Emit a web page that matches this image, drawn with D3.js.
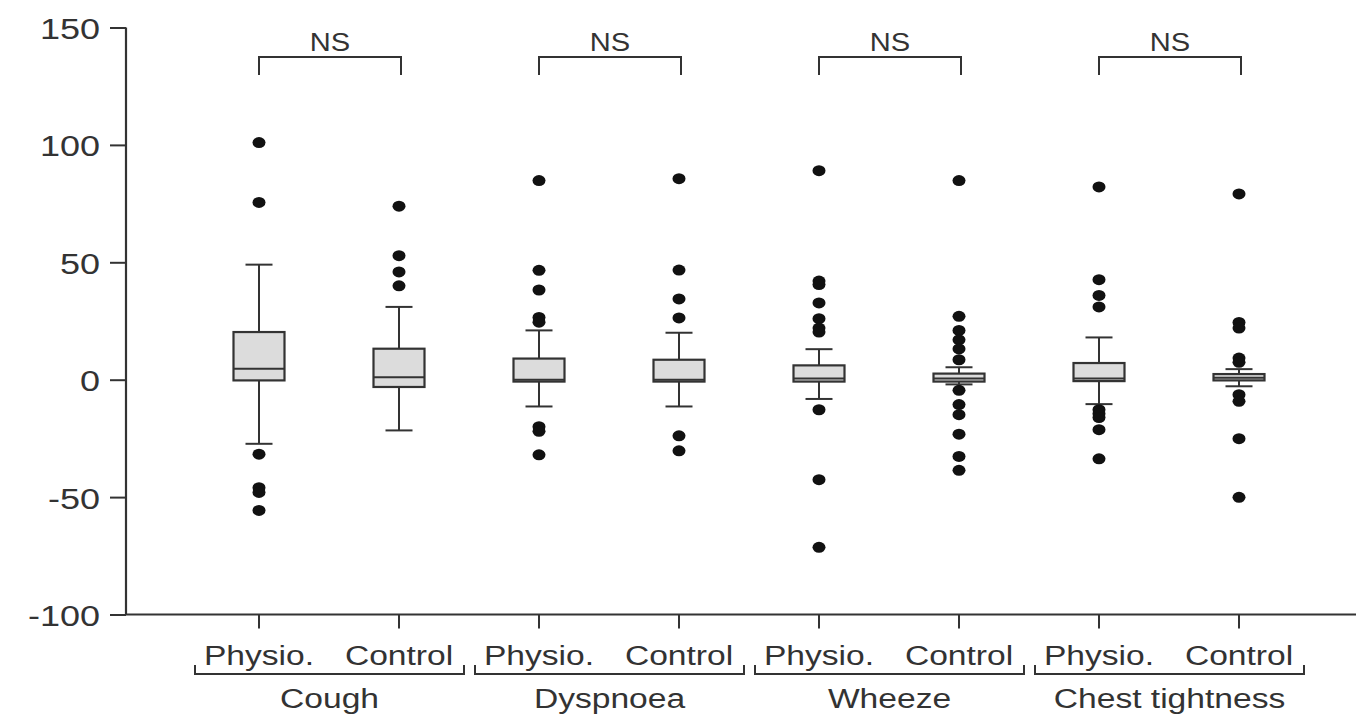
<!DOCTYPE html>
<html>
<head>
<meta charset="utf-8">
<script src="https://cdn.jsdelivr.net/npm/d3@7"></script>
<style>
  html, body { margin: 0; padding: 0; background: #fff; }
  svg { display: block; }
  text { font-family: "Liberation Sans", Arial, sans-serif; fill: #333; }
</style>
</head>
<body>
<svg id="chart" width="1356" height="717"></svg>
<script>
// ---- data ----
const categories = ["Cough", "Dyspnoea", "Wheeze", "Chest tightness"];
const arms = ["Physio.", "Control"];
const yTicks = [-100, -50, 0, 50, 100, 150];
const sigLabels = ["NS", "NS", "NS", "NS"];

// per box, in order: Cough Physio, Cough Control, Dyspnoea Physio, ...
const whiskerHigh = [49, 31, 21, 20, 13, 5.3, 18, 4.5];
const q3          = [20.3, 13.2, 9, 8.5, 6.1, 2.6, 7.1, 2.4];
const median      = [4.7, 1, 0, 0, 0.5, 0.5, 0.5, 0.8];
const q1          = [-0.3, -3.1, -0.8, -0.8, -0.8, -0.8, -0.6, -0.3];
const whiskerLow  = [-27.3, -21.6, -11.4, -11.4, -8.2, -2, -10.4, -2.8];
const outliers = [
  [101, 75.5, -31.7, -46, -48, -55.7],
  [73.9, 52.8, 45.9, 40],
  [84.8, 46.6, 38.2, 26.5, 24.5, -20, -22, -32],
  [85.6, 46.7, 34.4, 26.3, -23.9, -30.3],
  [89, 42, 40.5, 32.7, 26, 22, 20.3, -12.8, -42.6, -71.4],
  [84.8, 27, 21, 17, 13.1, 8.5, -4.5, -10.6, -14.9, -23.2, -32.7, -38.6],
  [82.1, 42.6, 35.9, 31, -12.8, -14.5, -16.1, -21.3, -33.7],
  [79.1, 24.4, 22, 9.2, 7.4, -6.4, -9.2, -25.1, -50.1]
];

// ---- layout ----
const svg = d3.select("#chart");
const W = 1356, H = 717;
const axisX = 126;
const y = d3.scaleLinear().domain([-100, 150]).range([614.5, 27.5]);
const keys = [];
categories.forEach(c => arms.forEach(a => keys.push(c + "|" + a)));
const x = d3.scalePoint().domain(keys).range([259, 1239]);
const stroke = "#333";
const SX = 1.2; // horizontal stretch of the reference's text

const boxes = keys.map((k, i) => ({
  key: k, cat: k.split("|")[0], arm: k.split("|")[1],
  lo: whiskerLow[i], q1: q1[i], med: median[i], q3: q3[i], hi: whiskerHigh[i],
  out: outliers[i]
}));

// ---- y axis ----
const yAxis = svg.append("g").attr("transform", `translate(${axisX},0)`)
  .call(d3.axisLeft(y).tickValues(yTicks).tickSize(16).tickPadding(0).tickFormat(d => String(d)));
yAxis.select(".domain").attr("stroke", stroke).attr("stroke-width", 2.2)
  .attr("d", `M0,${y(150)}V${y(-100)}`);
yAxis.selectAll(".tick line").attr("stroke", stroke).attr("stroke-width", 2);
yAxis.selectAll(".tick text").each(function () {
  const t = d3.select(this);
  t.attr("x", null).attr("dy", null)
   .attr("transform", `translate(-26,11) scale(${SX},1)`)
   .attr("text-anchor", "end")
   .style("font-size", "30px").style("fill", "#333");
});
yAxis.attr("font-family", null).attr("font-size", null);

// ---- x axis ----
svg.append("line").attr("x1", axisX - 1).attr("x2", W).attr("y1", y(-100)).attr("y2", y(-100))
  .attr("stroke", stroke).attr("stroke-width", 2.2);
svg.append("g").selectAll("line").data(boxes).join("line")
  .attr("x1", d => x(d.key)).attr("x2", d => x(d.key))
  .attr("y1", y(-100)).attr("y2", y(-100) + 14)
  .attr("stroke", stroke).attr("stroke-width", 2);

// arm labels
svg.append("g").selectAll("text").data(boxes).join("text")
  .attr("transform", d => `translate(${x(d.key)},665) scale(${SX},1)`)
  .attr("text-anchor", "middle").style("font-size", "28px")
  .text(d => d.arm);

// group brackets and labels
const groupG = svg.append("g");
categories.forEach(c => {
  const x0 = x(c + "|" + arms[0]) - 64;
  const x1 = x(c + "|" + arms[1]) + 65;
  groupG.append("path")
    .attr("d", `M${x0},665V674H${x1}V665`)
    .attr("fill", "none").attr("stroke", stroke).attr("stroke-width", 2);
  groupG.append("text")
    .attr("transform", `translate(${(x0 + x1) / 2},708) scale(${SX},1)`)
    .attr("text-anchor", "middle").style("font-size", "28px").text(c);
});

// significance brackets
categories.forEach((c, i) => {
  const xa = x(c + "|" + arms[0]), xb = x(c + "|" + arms[1]) + 2;
  svg.append("path").attr("d", `M${xa},75V57H${xb}V75`)
    .attr("fill", "none").attr("stroke", stroke).attr("stroke-width", 2);
  svg.append("text")
    .attr("transform", `translate(${(xa + xb) / 2},51) scale(1.12,1)`)
    .attr("text-anchor", "middle").style("font-size", "26px").text(sigLabels[i]);
});

// ---- boxes ----
const bw = 51, cw = 27;
const bg = svg.append("g").selectAll("g").data(boxes).join("g")
  .attr("transform", d => `translate(${x(d.key)},0)`);

bg.append("line").attr("x1", 0).attr("x2", 0)
  .attr("y1", d => y(d.hi)).attr("y2", d => y(d.q3))
  .attr("stroke", stroke).attr("stroke-width", 2);
bg.append("line").attr("x1", 0).attr("x2", 0)
  .attr("y1", d => y(d.q1)).attr("y2", d => y(d.lo))
  .attr("stroke", stroke).attr("stroke-width", 2);
bg.append("line").attr("x1", -cw / 2).attr("x2", cw / 2)
  .attr("y1", d => y(d.hi)).attr("y2", d => y(d.hi))
  .attr("stroke", stroke).attr("stroke-width", 2);
bg.append("line").attr("x1", -cw / 2).attr("x2", cw / 2)
  .attr("y1", d => y(d.lo)).attr("y2", d => y(d.lo))
  .attr("stroke", stroke).attr("stroke-width", 2);
bg.append("rect").attr("x", -bw / 2).attr("width", bw)
  .attr("y", d => y(d.q3)).attr("height", d => y(d.q1) - y(d.q3))
  .attr("fill", "#dcdcdc").attr("stroke", stroke).attr("stroke-width", 2.2);
bg.append("line").attr("x1", -bw / 2).attr("x2", bw / 2)
  .attr("y1", d => y(d.med)).attr("y2", d => y(d.med))
  .attr("stroke", stroke).attr("stroke-width", 2);

// outliers
bg.selectAll("ellipse").data(d => d.out).join("ellipse")
  .attr("cx", 0).attr("cy", v => y(v)).attr("rx", 6.5).attr("ry", 5.5)
  .attr("fill", "#111");
</script>
</body>
</html>
